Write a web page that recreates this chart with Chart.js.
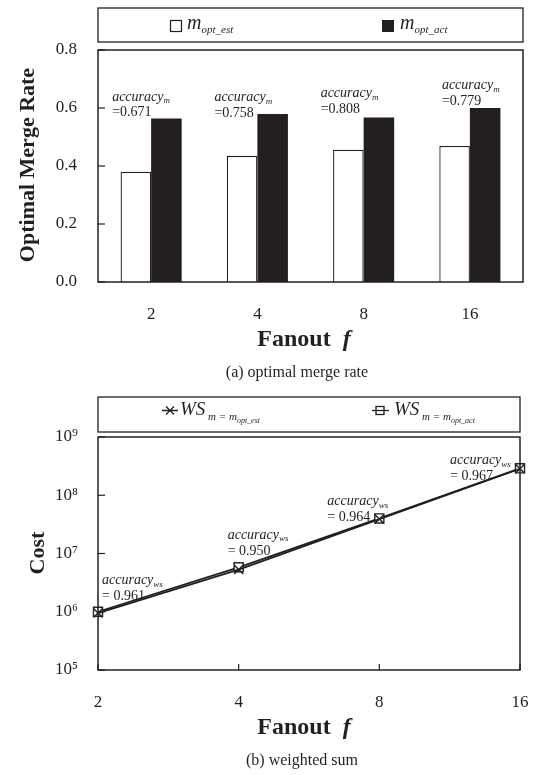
<!DOCTYPE html>
<html>
<head>
<meta charset="utf-8">
<script src="https://cdn.jsdelivr.net/npm/chart.js@4.4.1/dist/chart.umd.min.js"></script>
<style>
  html, body { margin: 0; padding: 0; background: #fff; }
  body { width: 539px; height: 775px; position: relative; overflow: hidden; }
  canvas { position: absolute; left: 0; }
  #rateChart { top: 0; }
  #costChart { top: 390px; }
</style>
</head>
<body>
<canvas id="rateChart" width="539" height="390"></canvas>
<canvas id="costChart" width="539" height="385"></canvas>
<script>
// ---------- data ----------
const fanouts = ["2", "4", "8", "16"];
const mOptEst = [0.38, 0.435, 0.456, 0.469];
const mOptAct = [0.564, 0.579, 0.567, 0.600];
const accuracyM = ["0.671", "0.758", "0.808", "0.779"];
const rateTicks = [0, 0.2, 0.4, 0.6, 0.8];

const wsEst = [0.95e6, 5.3e6, 3.9e7, 2.85e8];
const wsAct = [1.0e6, 5.8e6, 4.0e7, 2.9e8];
const accuracyWs = ["0.961", "0.950", "0.964", "0.967"];
const costExponents = [5, 6, 7, 8, 9];

const INK = "#231f20";
const SERIF = "'Liberation Serif', 'Times New Roman', serif";
const SUP = { 0: "⁰", 1: "¹", 2: "²", 3: "³", 4: "⁴", 5: "⁵", 6: "⁶", 7: "⁷", 8: "⁸", 9: "⁹" };

Chart.defaults.font.family = SERIF;
Chart.defaults.color = INK;

// draw a run of differently styled text pieces: [text, font, baselineY]
function drawRich(ctx, x, parts, align) {
  let w = 0;
  parts.forEach((p) => { ctx.font = p[1]; w += ctx.measureText(p[0]).width; });
  let cx = align === "center" ? x - w / 2 : x;
  ctx.textAlign = "left";
  ctx.textBaseline = "alphabetic";
  parts.forEach((p) => {
    ctx.font = p[1];
    ctx.fillText(p[0], cx, p[2]);
    cx += ctx.measureText(p[0]).width;
  });
}

function vTitle(ctx, text, x, y) {
  ctx.save();
  ctx.translate(x, y);
  ctx.rotate(-Math.PI / 2);
  ctx.font = "bold 22px " + SERIF;
  ctx.textAlign = "center";
  ctx.textBaseline = "middle";
  ctx.fillText(text, 0, 0);
  ctx.restore();
}

function frame(ctx, a) {
  ctx.strokeStyle = INK;
  ctx.lineWidth = 1.5;
  ctx.strokeRect(a.left, a.top, a.right - a.left, a.bottom - a.top);
}

// keep edge tick labels from shrinking the plot
function noEdgePad(s) {
  s.paddingLeft = 0;
  s.paddingRight = 0;
}

/* ---------- (a) optimal merge rate ---------- */
// label offsets from the top of the black bar (layout only)
const accMdx = [-39, -43, -43, -28];
const accMdy = [-2, 2.5, -5, -3.5];

const rateDecor = {
  id: "rateDecor",
  afterDraw(chart) {
    const { ctx, chartArea: a, scales } = chart;
    ctx.save();
    ctx.fillStyle = INK;
    ctx.strokeStyle = INK;

    // legend box
    ctx.lineWidth = 1.3;
    ctx.strokeRect(a.left, 8, a.right - a.left, 34);
    ctx.lineWidth = 1.2;
    ctx.fillStyle = "#fff";
    ctx.fillRect(170.5, 20.5, 11, 11);
    ctx.strokeRect(170.5, 20.5, 11, 11);
    ctx.fillStyle = INK;
    ctx.fillRect(382, 20, 12, 12);
    drawRich(ctx, 187, [["m", "italic 20px " + SERIF, 28.5], ["opt_est", "italic 11px " + SERIF, 32.5]]);
    drawRich(ctx, 400, [["m", "italic 20px " + SERIF, 28.5], ["opt_act", "italic 11px " + SERIF, 32.5]]);

    frame(ctx, a);

    // inward ticks
    ctx.lineWidth = 1.2;
    rateTicks.forEach((v) => {
      const y = scales.y.getPixelForValue(v);
      ctx.beginPath();
      ctx.moveTo(a.left, y);
      ctx.lineTo(a.left + 7, y);
      ctx.stroke();
    });

    // accuracy labels
    accuracyM.forEach((acc, i) => {
      const x = scales.x.getPixelForValue(i) + accMdx[i];
      const b = scales.y.getPixelForValue(mOptAct[i]) + accMdy[i];
      drawRich(ctx, x, [["accuracy", "italic 14px " + SERIF, b - 15.5], ["m", "italic 9px " + SERIF, b - 13]]);
      drawRich(ctx, x, [["=" + acc, "14px " + SERIF, b]]);
    });

    vTitle(ctx, "Optimal Merge Rate", 28, 165);
    drawRich(ctx, 304, [["Fanout ", "bold 24px " + SERIF, 346], [" f", "bold italic 24px " + SERIF, 346]], "center");
    drawRich(ctx, 297, [["(a) optimal merge rate", "16px " + SERIF, 377]], "center");
    ctx.restore();
  },
};

new Chart(document.getElementById("rateChart"), {
  type: "bar",
  data: {
    labels: fanouts,
    datasets: [
      {
        label: "m_opt_est",
        data: mOptEst,
        backgroundColor: "#ffffff",
        borderColor: INK,
        borderWidth: 1.3,
      },
      {
        label: "m_opt_act",
        data: mOptAct,
        backgroundColor: INK,
        borderWidth: 0,
      },
    ],
  },
  options: {
    responsive: false,
    animation: false,
    categoryPercentage: 0.575,
    barPercentage: 1.0,
    layout: { padding: { left: 0, right: 16, top: 50, bottom: 0 } },
    plugins: { legend: { display: false }, tooltip: { enabled: false } },
    scales: {
      x: {
        grid: { display: false },
        border: { display: false },
        ticks: { font: { size: 17 }, padding: 14, color: INK },
        afterFit: (s) => { s.height = 108; noEdgePad(s); },
      },
      y: {
        min: 0,
        max: 0.8,
        grid: { display: false },
        border: { display: false },
        afterBuildTicks: (s) => { s.ticks = rateTicks.map((v) => ({ value: v })); },
        ticks: { font: { size: 17 }, padding: 13, color: INK, callback: (v) => Number(v).toFixed(1) },
        afterFit: (s) => { s.width = 98; },
      },
    },
  },
  plugins: [rateDecor],
});

/* ---------- (b) weighted sum ---------- */
const accWsDx = [4, -11, -52, -70];
const accWsDy = [-11.5, -12.5, 3, 12];

const costDecor = {
  id: "costDecor",
  afterDraw(chart) {
    const { ctx, chartArea: a, scales } = chart;
    ctx.save();
    ctx.fillStyle = INK;
    ctx.strokeStyle = INK;

    // legend box
    ctx.lineWidth = 1.3;
    ctx.strokeRect(a.left, 7, a.right - a.left, 35);
    ctx.lineWidth = 1.3;
    // cross item
    ctx.beginPath();
    ctx.moveTo(162, 20.5); ctx.lineTo(178, 20.5);
    ctx.moveTo(166, 16.5); ctx.lineTo(174, 24.5);
    ctx.moveTo(174, 16.5); ctx.lineTo(166, 24.5);
    ctx.stroke();
    drawRich(ctx, 180, [
      ["WS", "italic 19px " + SERIF, 25],
      [" m = m", "italic 11px " + SERIF, 30],
      ["opt_est", "italic 8px " + SERIF, 33],
    ]);
    // square item
    ctx.beginPath();
    ctx.moveTo(372, 20.5); ctx.lineTo(389, 20.5);
    ctx.stroke();
    ctx.fillStyle = "#fff";
    ctx.fillRect(376, 16.5, 8, 8);
    ctx.strokeRect(376, 16.5, 8, 8);
    ctx.beginPath();
    ctx.moveTo(376, 20.5); ctx.lineTo(384, 20.5);
    ctx.stroke();
    ctx.fillStyle = INK;
    drawRich(ctx, 394, [
      ["WS", "italic 19px " + SERIF, 25],
      [" m = m", "italic 11px " + SERIF, 30],
      ["opt_act", "italic 8px " + SERIF, 33],
    ]);

    frame(ctx, a);

    // inward ticks
    ctx.lineWidth = 1.2;
    costExponents.forEach((e) => {
      const y = scales.y.getPixelForValue(Math.pow(10, e));
      ctx.beginPath();
      ctx.moveTo(a.left, y);
      ctx.lineTo(a.left + 7, y);
      ctx.stroke();
    });
    fanouts.forEach((f, i) => {
      const x = scales.x.getPixelForValue(i);
      ctx.beginPath();
      ctx.moveTo(x, a.bottom);
      ctx.lineTo(x, a.bottom - 6);
      ctx.stroke();
    });

    // accuracy labels
    accuracyWs.forEach((acc, i) => {
      const x = scales.x.getPixelForValue(i) + accWsDx[i];
      const b = scales.y.getPixelForValue(wsAct[i]) + accWsDy[i];
      drawRich(ctx, x, [["accuracy", "italic 14px " + SERIF, b - 16], ["ws", "italic 9px " + SERIF, b - 13.5]]);
      drawRich(ctx, x, [["= " + acc, "14px " + SERIF, b]]);
    });

    vTitle(ctx, "Cost", 38, 163);
    drawRich(ctx, 304, [["Fanout ", "bold 24px " + SERIF, 344], [" f", "bold italic 24px " + SERIF, 344]], "center");
    drawRich(ctx, 302, [["(b) weighted sum", "16px " + SERIF, 375]], "center");
    ctx.restore();
  },
};

new Chart(document.getElementById("costChart"), {
  type: "line",
  data: {
    labels: fanouts,
    datasets: [
      {
        label: "WS m = m_opt_est",
        data: wsEst,
        borderColor: INK,
        borderWidth: 1.8,
        pointStyle: "crossRot",
        pointRadius: 6.4,
        pointBorderWidth: 1.4,
        pointBorderColor: INK,
        clip: false,
      },
      {
        label: "WS m = m_opt_act",
        data: wsAct,
        borderColor: INK,
        borderWidth: 1.8,
        pointStyle: "rect",
        pointRadius: 6.4,
        pointBorderWidth: 1.4,
        pointBorderColor: INK,
        pointBackgroundColor: "#ffffff",
        clip: false,
      },
    ],
  },
  options: {
    responsive: false,
    animation: false,
    layout: { padding: { left: 0, right: 19, top: 47, bottom: 0 } },
    plugins: { legend: { display: false }, tooltip: { enabled: false } },
    scales: {
      x: {
        offset: false,
        grid: { display: false },
        border: { display: false },
        ticks: { font: { size: 17 }, padding: 14, color: INK },
        afterFit: (s) => { s.height = 105; noEdgePad(s); },
      },
      y: {
        type: "logarithmic",
        min: 1e5,
        max: 1e9,
        grid: { display: false },
        border: { display: false },
        afterBuildTicks: (s) => { s.ticks = costExponents.map((e) => ({ value: Math.pow(10, e) })); },
        ticks: {
          font: { size: 17 },
          padding: 12,
          color: INK,
          callback: (v) => "10" + SUP[Math.round(Math.log10(v))],
        },
        afterFit: (s) => { s.width = 98; s.paddingTop = 0; s.paddingBottom = 0; },
      },
    },
  },
  plugins: [costDecor],
});
</script>
</body>
</html>
